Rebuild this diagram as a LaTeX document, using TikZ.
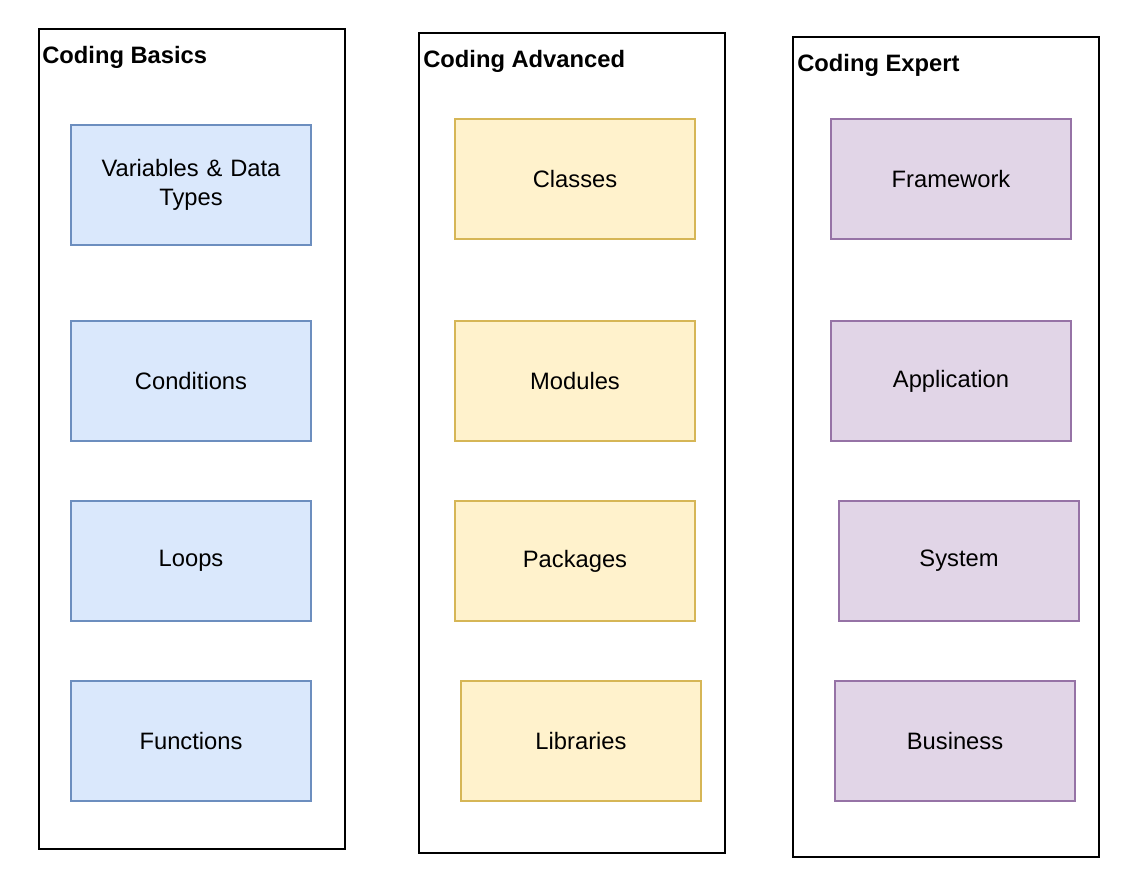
\documentclass[tikz,border=0pt]{standalone}
\usepackage{fontspec}
\setmainfont{Liberation Sans}
\definecolor{bfill}{HTML}{DAE8FC}\definecolor{bdraw}{HTML}{6C8EBF}
\definecolor{yfill}{HTML}{FFF2CC}\definecolor{ydraw}{HTML}{D6B656}
\definecolor{pfill}{HTML}{E1D5E7}\definecolor{pdraw}{HTML}{9673A6}
\tikzset{
  px/.style={x=0.75pt,y=-0.75pt},
  container/.style={draw=black,line width=1.5pt,fill=white},
  title/.style={anchor=base west,inner sep=0pt,font=\fontsize{17.8}{21}\selectfont\bfseries},
  item/.style={draw,line width=1.1pt,minimum width=180pt,minimum height=90pt,inner sep=0pt,align=center,text width=175pt,font=\fontsize{17.8}{21.75}\selectfont},
  blue/.style={item,fill=bfill,draw=bdraw},
  yel/.style={item,fill=yfill,draw=ydraw},
  pur/.style={item,fill=pfill,draw=pdraw}
}
\begin{document}
\begin{tikzpicture}[px]
\useasboundingbox (0,0) rectangle (1128,892);
% containers
\draw[container] (39,29) rectangle (345,849) coordinate (c1);
\draw[container] (419,33) rectangle (725,853) coordinate (c2);
\draw[container] (793,37) rectangle (1099,857) coordinate (c3);
\node[title] (t1) at (42,63.5) {Coding Basics};
\node[title] (t2) at (423,67.5) {Coding Advanced};
\node[title] (t3) at (797,71.5) {Coding Expert};
% basics
\node[blue] (b1) at (191,185) {Variables \& Data\\Types};
\node[blue] (b2) at (191,381) {Conditions};
\node[blue] (b3) at (191,561) {Loops};
\node[blue] (b4) at (191,741) {Functions};
% advanced
\node[yel] (a1) at (575,179) {Classes};
\node[yel] (a2) at (575,381) {Modules};
\node[yel] (a3) at (575,561) {Packages};
\node[yel] (a4) at (581,741) {Libraries};
% expert
\node[pur] (e1) at (951,179) {Framework};
\node[pur] (e2) at (951,381) {Application};
\node[pur] (e3) at (959,561) {System};
\node[pur] (e4) at (955,741) {Business};
\end{tikzpicture}
\end{document}
